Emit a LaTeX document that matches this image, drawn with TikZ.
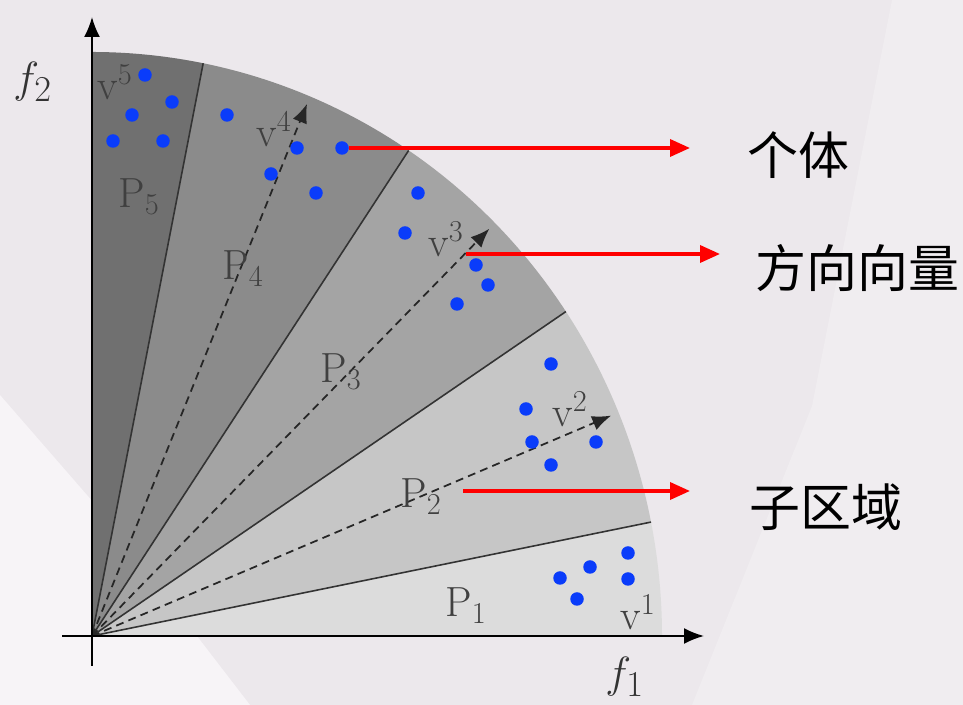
\documentclass[tikz,border=0pt]{standalone}
\usepackage{fontspec}
\usepackage{xcolor}
\usepackage{tikz}
\usetikzlibrary{arrows.meta,positioning}
\newfontfamily\cjk{Noto Sans CJK SC}
\definecolor{bggray}{HTML}{ECE8EC}
\definecolor{bglight}{HTML}{F7F4F7}
\definecolor{bgmid}{HTML}{F0EDF0}
\definecolor{pone}{HTML}{DCDCDC}
\definecolor{ptwo}{HTML}{C6C6C6}
\definecolor{pthree}{HTML}{A4A4A4}
\definecolor{pfour}{HTML}{8B8B8B}
\definecolor{pfive}{HTML}{707070}
\definecolor{dotblue}{RGB}{10,60,250}

\begin{document}
\begin{tikzpicture}[x=0.02cm, y=0.02cm,
    sector/.style={fill=#1, draw=none},
    bound/.style={draw=black!80, line width=0.9pt},
    dirvec/.style={draw=black!85, line width=1pt, dash pattern=on 4.5pt off 3pt,
                   -{Latex[length=3.8mm,width=3mm]}},
    axis/.style={line width=1.1pt, -{Latex[length=4mm,width=3.2mm]}},
    dot/.style={circle, fill=dotblue, inner sep=0pt, minimum size=2.7mm},
    lab/.style={inner sep=0pt, anchor=base west, text=black!75,
                font=\fontsize{24}{28}\selectfont},
    axlab/.style={inner sep=0pt, anchor=base west, text=black!80,
                  font=\fontsize{28}{32}\selectfont},
    note/.style={inner sep=0pt, anchor=base west,
                 font=\cjk\fontsize{29}{34}\selectfont},
    pointer/.style={draw=red, line width=2pt, -{Triangle[length=4mm,width=3.4mm]}}
]
% background
\useasboundingbox (-92,-69) rectangle (871,636);
\fill[bggray] (-92,-69) rectangle (871,636);
\fill[bglight] (-92,241) -- (8,126) -- (158,-69) -- (-92,-69) -- cycle;
\fill[bgmid] (800,636) -- (871,636) -- (871,-69) -- (600,-69) -- (720,230) -- cycle;

% sectors
\coordinate (O) at (0,0);
\coordinate (b0) at (0:570 and 584);
\coordinate (b1) at (11.25:570 and 584);
\coordinate (b2) at (33.75:570 and 584);
\coordinate (b3) at (56.25:570 and 584);
\coordinate (b4) at (78.75:570 and 584);
\fill[sector=pone]   (O) -- (b0) arc[start angle=0, end angle=11.25, x radius=570, y radius=584] -- cycle;
\fill[sector=ptwo]   (O) -- (b1) arc[start angle=11.25, end angle=33.75, x radius=570, y radius=584] -- cycle;
\fill[sector=pthree] (O) -- (b2) arc[start angle=33.75, end angle=56.25, x radius=570, y radius=584] -- cycle;
\fill[sector=pfour]  (O) -- (b3) arc[start angle=56.25, end angle=78.75, x radius=570, y radius=584] -- cycle;
\fill[sector=pfive]  (O) -- (b4) arc[start angle=78.75, end angle=90, x radius=570, y radius=584] -- cycle;
\draw[bound] (O) -- (b1); \draw[bound] (O) -- (b2);
\draw[bound] (O) -- (b3); \draw[bound] (O) -- (b4);

% direction vectors
\coordinate (t2) at (22.5:562 and 576);
\coordinate (t3) at (45:562 and 576);
\coordinate (t4) at (67.5:562 and 576);
\draw[dirvec] (O) -- (t2); \draw[dirvec] (O) -- (t3); \draw[dirvec] (O) -- (t4);

% axes
\coordinate (xs) at (-30,0);  \coordinate (xe) at (612,0);
\coordinate (ys) at (0,-30);  \coordinate (ye) at (0,619);
\draw[axis] (xs) -- (xe);
\draw[axis] (ys) -- (ye);
\node[axlab] (f1) at (513,-52) {$f_1$};
\node[axlab] (f2) at (-79,543) {$f_2$};

% individuals
\node[dot] (d5a) at (53,561) {};  \node[dot] (d5b) at (80,534) {};
\node[dot] (d5c) at (40,521) {};  \node[dot] (d5d) at (21,495) {};
\node[dot] (d5e) at (71,495) {};
\node[dot] (d4a) at (135,521) {}; \node[dot] (d4b) at (205,488) {};
\node[dot] (d4c) at (250,488) {}; \node[dot] (d4d) at (179,462) {};
\node[dot] (d4e) at (224,443) {};
\node[dot] (d3a) at (326,443) {}; \node[dot] (d3b) at (313,403) {};
\node[dot] (d3c) at (384,371) {}; \node[dot] (d3d) at (396,351) {};
\node[dot] (d3e) at (365,332) {};
\node[dot] (d2a) at (459,272) {}; \node[dot] (d2b) at (434,227) {};
\node[dot] (d2c) at (440,194) {}; \node[dot] (d2d) at (504,194) {};
\node[dot] (d2e) at (459,171) {};
\node[dot] (d1a) at (536,83) {};  \node[dot] (d1b) at (498,69) {};
\node[dot] (d1c) at (468,58) {};  \node[dot] (d1d) at (536,57) {};
\node[dot] (d1e) at (485,37) {};

% labels
\node[lab] (v5) at (5,536)   {$\mathrm{v}^5$};
\node[lab] (v4) at (164,489) {$\mathrm{v}^4$};
\node[lab] (v3) at (336,379) {$\mathrm{v}^3$};
\node[lab] (v2) at (460,209) {$\mathrm{v}^2$};
\node[lab] (v1) at (528,6)   {$\mathrm{v}^1$};
\node[lab] (p5) at (26,428)  {$\mathrm{P}_5$};
\node[lab] (p4) at (130,356) {$\mathrm{P}_4$};
\node[lab] (p3) at (228,253) {$\mathrm{P}_3$};
\node[lab] (p2) at (308,128) {$\mathrm{P}_2$};
\node[lab] (p1) at (353,19)  {$\mathrm{P}_1$};

% notes
\node[note] (geti)      at (655,461) {个体};
\node[note] (fangxiang) at (663,348) {方向向量};
\node[note] (ziquyu)    at (657,109) {子区域};
\coordinate (s2) at (374,382); \coordinate (s3) at (371,145);
\coordinate (e1) at (598,488); \coordinate (e2) at (628,382);
\coordinate (e3) at (598,145);
\draw[pointer] (d4c) -- (e1);
\draw[pointer] (s2) -- (e2);
\draw[pointer] (s3) -- (e3);
\end{tikzpicture}
\end{document}
